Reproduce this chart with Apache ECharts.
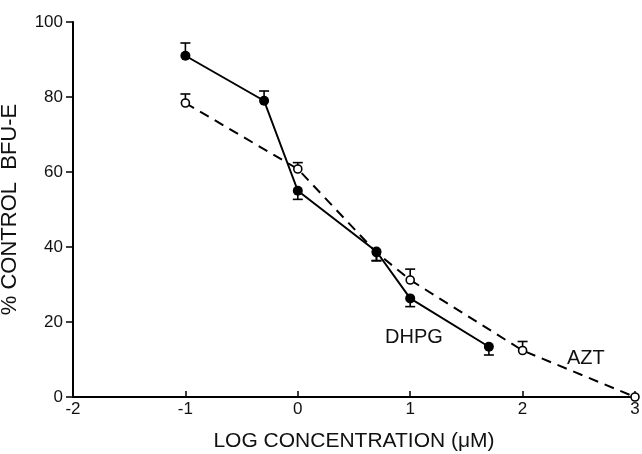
<!DOCTYPE html>
<html>
<head>
<meta charset="utf-8">
<script src="https://cdn.jsdelivr.net/npm/echarts@6/dist/echarts.min.js"></script>
<style>
html,body{margin:0;padding:0;background:#fff;}
#chart{width:642px;height:454px;}
</style>
</head>
<body>
<div id="chart"></div>
<script>
// DHPG (filled circles, solid line)
var dhpgX = [-1, -0.3, 0, 0.7, 1, 1.7];
var dhpgY = [91, 79, 55, 38.8, 26.3, 13.4];
var dhpgErr = [94.4, 81.6, 52.7, 36.3, 24.1, 11.2];   // end of the one-sided error bar

// AZT (open circles, dashed line)
var aztX = [-1, 0, 0.7, 1, 2, 3];
var aztY = [78.4, 60.8, 38.5, 31.2, 12.4, 0];
var aztErr = [80.8, 62.5, 36.4, 34.1, 14.8, null];

var xTicks = [-2, -1, 0, 1, 2, 3];
var yTicks = [0, 20, 40, 60, 80, 100];

var FONT = 'Liberation Sans';

function pairs(xs, ys){
	var out = [];
	for(var i = 0; i < xs.length; i++){
		out.push([xs[i], ys[i]]);
	}
	return out;
}

function errData(xs, ys, es){
	var out = [];
	for(var i = 0; i < xs.length; i++){
		if(es[i] != null) out.push([xs[i], ys[i], es[i]]);
	}
	return out;
}

//误差线
function renderErr(params, api){
	var p = api.coord([api.value(0), api.value(1)]);
	var e = api.coord([api.value(0), api.value(2)]);
	var cap = 5;
	return {
		type: 'group',
		children: [
			{type:'line', shape:{x1:p[0], y1:p[1], x2:e[0], y2:e[1]}, style:{stroke:'#000', lineWidth:1.6}},
			{type:'line', shape:{x1:e[0]-cap, y1:e[1], x2:e[0]+cap, y2:e[1]}, style:{stroke:'#000', lineWidth:1.6}}
		]
	};
}

var myChart = echarts.init(document.getElementById('chart'));
myChart.setOption({
	animation: false,
	backgroundColor: '#fff',
	grid: {left: 73, right: 7, top: 22, bottom: 57, outerBoundsMode: 'none', containLabel: false},
	xAxis: {
		type: 'value',
		min: -2,
		max: 3,
		interval: 1,
		name: 'LOG CONCENTRATION (\u03BCM)',
		nameLocation: 'middle',
		nameGap: 34,
		nameTextStyle: {fontFamily: FONT, fontSize: 21, color: '#111'},
		axisLine: {onZero: false, lineStyle: {color: '#000', width: 2}},
		axisTick: {inside: true, length: 6, lineStyle: {color: '#000', width: 1.5}},
		axisLabel: {
			fontFamily: FONT, fontSize: 17, color: '#111', margin: 4,
			formatter: function(v){ return xTicks.indexOf(v) >= 0 ? String(v) : ''; }
		},
		splitLine: {show: false}
	},
	yAxis: {
		type: 'value',
		min: 0,
		max: 100,
		interval: 20,
		name: '% CONTROL  BFU-E',
		nameLocation: 'middle',
		nameGap: 52,
		nameMoveOverlap: false,
		nameRotate: 90,
		nameTextStyle: {fontFamily: FONT, fontSize: 22, color: '#111'},
		axisLine: {onZero: false, lineStyle: {color: '#000', width: 2}},
		axisTick: {length: 7, lineStyle: {color: '#000', width: 1.5}},
		axisLabel: {
			fontFamily: FONT, fontSize: 17, color: '#111', margin: 10,
			formatter: function(v){ return yTicks.indexOf(v) >= 0 ? String(v) : ''; }
		},
		splitLine: {show: false}
	},
	series: [
		{
			name: 'AZT',
			type: 'line',
			data: pairs(aztX, aztY),
			symbol: 'circle',
			symbolSize: 8,
			itemStyle: {color: '#fff', borderColor: '#000', borderWidth: 1.6},
			lineStyle: {color: '#000', width: 2, type: [10, 7]},
			z: 3
		},
		{
			name: 'DHPG',
			type: 'line',
			data: pairs(dhpgX, dhpgY),
			symbol: 'circle',
			symbolSize: 10,
			itemStyle: {color: '#000'},
			lineStyle: {color: '#000', width: 2},
			z: 4
		},
		{
			type: 'custom',
			renderItem: renderErr,
			data: errData(dhpgX, dhpgY, dhpgErr),
			z: 2
		},
		{
			type: 'custom',
			renderItem: renderErr,
			data: errData(aztX, aztY, aztErr),
			z: 2
		}
	],
	graphic: [
		{type:'text', left: 385, top: 327, style:{text:'DHPG', fontFamily: FONT, fontSize: 20, fill:'#111'}},
		{type:'text', left: 567, top: 348, style:{text:'AZT', fontFamily: FONT, fontSize: 20, fill:'#111'}}
	]
});
</script>
</body>
</html>
